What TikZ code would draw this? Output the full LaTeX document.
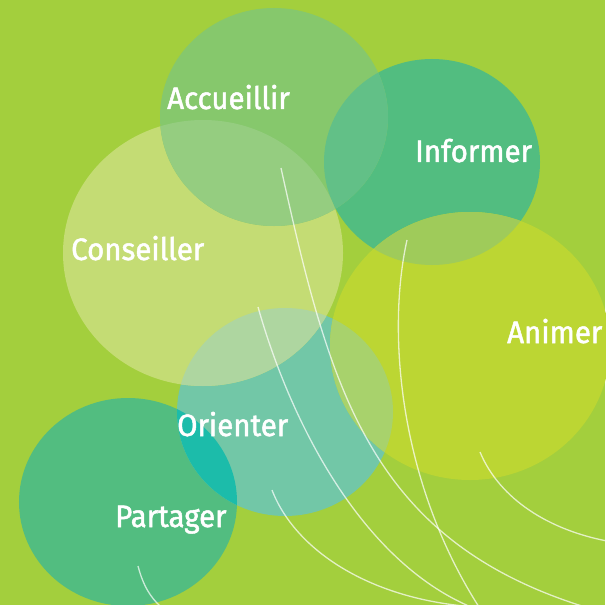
\documentclass[tikz,border=0pt]{standalone}
\usepackage{fontspec}
\setmainfont{Fira Sans}
\newfontfamily\balloonfont{Fira Sans}[FakeBold=1.6, FakeStretch=0.95]
\definecolor{meadow}{HTML}{A3CF3D}
\definecolor{accfill}{HTML}{86C86C}
\definecolor{inffill}{HTML}{52BD80}
\definecolor{accinf}{HTML}{62C087}
\definecolor{confill}{HTML}{C4DC74}
\definecolor{acccon}{HTML}{95CD80}
\definecolor{orifill}{HTML}{72C7A7}
\definecolor{conori}{HTML}{AED6A0}
\definecolor{anifill}{HTML}{BCD633}
\definecolor{oriani}{HTML}{A8D26C}
\definecolor{infani}{HTML}{9FCB5A}
\definecolor{parfill}{HTML}{52BD80}
\definecolor{parori}{HTML}{1CBCAA}
\newcommand{\accpath}{(274,117) ellipse [x radius=114bp, y radius=109bp]}
\newcommand{\infpath}{(432,162) ellipse [x radius=108bp, y radius=103bp]}
\newcommand{\conpath}{(203,253) ellipse [x radius=140bp, y radius=133bp]}
\newcommand{\anipath}{(470,346) ellipse [x radius=140bp, y radius=134bp]}
\newcommand{\oripath}{(285,412) ellipse [x radius=108bp, y radius=104bp]}
\newcommand{\parpath}{(128,502) ellipse [x radius=109bp, y radius=104bp]}
\begin{document}
\begin{tikzpicture}[x=1bp, y=-1bp,
  word/.style={text=white, inner sep=0pt, anchor=base west, font=\balloonfont\fontsize{31bp}{36bp}\selectfont},
  string/.style={draw=white, draw opacity=0.7, line width=1.3bp}]
  \fill[meadow] (0,0) rectangle (605,605);
  \useasboundingbox (0,0) rectangle (605,605);
  \fill[parfill] \parpath;
  \fill[orifill] \oripath;
  \fill[inffill] \infpath;
  \fill[confill] \conpath;
  \fill[accfill] \accpath;
  \fill[anifill] \anipath;
  \begin{scope}
    \clip \parpath;
    \fill[parori] \oripath;
  \end{scope}
  \begin{scope}
    \clip \accpath;
    \fill[accinf] \infpath;
    \fill[acccon] \conpath;
  \end{scope}
  \begin{scope}
    \clip \oripath;
    \fill[conori] \conpath;
    \fill[oriani] \anipath;
  \end{scope}
  \begin{scope}
    \clip \infpath;
    \fill[infani] \anipath;
  \end{scope}
  \node[word] (accueillir) at (167,109) {Accueillir};
  \node[word] (informer) at (415,162) {Informer};
  \node[word] (conseiller) at (71,260) {Conseiller};
  \node[word] (animer) at (507,343) {Animer};
  \node[word] (orienter) at (177,436) {Orienter};
  \node[word] (partager) at (115,527) {Partager};
  \coordinate (accstart) at (281,168);
  \coordinate (accend) at (585,607);
  \coordinate (infstart) at (407,240);
  \coordinate (infend) at (479,607);
  \coordinate (constart) at (258,307);
  \coordinate (conend) at (471,607);
  \coordinate (oristart) at (272,490);
  \coordinate (oriend) at (476,607);
  \coordinate (anistart) at (480,452);
  \coordinate (aniend) at (607,541);
  \coordinate (parstart) at (138,566);
  \coordinate (parend) at (161,607);
  \draw[string] (accstart) .. controls (330,390) and (370,540) .. (accend);
  \draw[string] (infstart) .. controls (387,330) and (398,480) .. (infend);
  \draw[string] (constart) .. controls (290,420) and (360,560) .. (conend);
  \draw[string] (oristart) .. controls (295,550) and (370,600) .. (oriend);
  \draw[string] (anistart) .. controls (500,500) and (550,530) .. (aniend);
  \draw[string] (parstart) .. controls (143,585) and (150,597) .. (parend);
\end{tikzpicture}
\end{document}
